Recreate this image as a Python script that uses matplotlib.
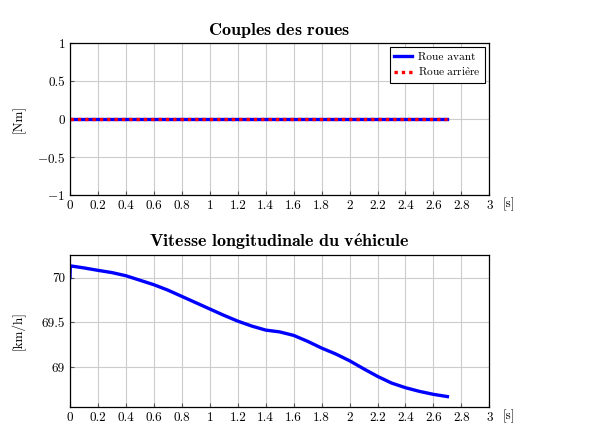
import numpy as np
import matplotlib
matplotlib.use("Agg")
import matplotlib.pyplot as plt

plt.rcParams['font.family'] = ['cmr10', 'DejaVu Serif']
plt.rcParams['mathtext.fontset'] = 'cm'
plt.rcParams['axes.formatter.use_mathtext'] = True
plt.rcParams['axes.unicode_minus'] = True

# temps et couples (nuls)
t_couple = [0.0, 2.7]
couple_avant = [0.0, 0.0]
couple_arriere = [0.0, 0.0]

# vitesse longitudinale
t_vit = [0.0, 0.002, 0.1, 0.2, 0.3, 0.4, 0.5, 0.6, 0.7, 0.8, 0.9, 1.0, 1.1, 1.2,
         1.3, 1.4, 1.5, 1.6, 1.7, 1.8, 1.9, 2.0, 2.1, 2.2, 2.3, 2.4, 2.5, 2.6, 2.7]
vitesse = [70.0, 70.13, 70.107, 70.08, 70.055, 70.02, 69.97, 69.92, 69.86, 69.79,
           69.72, 69.65, 69.58, 69.515, 69.46, 69.415, 69.395, 69.356, 69.29,
           69.215, 69.15, 69.074, 68.985, 68.90, 68.826, 68.774, 68.733, 68.70, 68.675]

xticks = np.arange(0, 3.01, 0.2)
xticklabels = ['0', '0.2', '0.4', '0.6', '0.8', '1', '1.2', '1.4', '1.6', '1.8',
               '2', '2.2', '2.4', '2.6', '2.8', '3']

fig = plt.figure(figsize=(6.14, 4.23), dpi=100)
ax1 = fig.add_axes([0.114, 0.539, 0.683, 0.359])
ax2 = fig.add_axes([0.114, 0.038, 0.683, 0.359])

for ax in (ax1, ax2):
    ax.set_xlim(0, 3)
    ax.set_xticks(xticks)
    ax.set_xticklabels(xticklabels)
    ax.grid(True, color='#cccccc', linewidth=0.8)
    ax.set_axisbelow(True)
    ax.tick_params(direction='in', length=3, labelsize=9.5, color='#555555')
    for s in ax.spines.values():
        s.set_linewidth(0.9)
    ax.text(1.045, -0.06, '[s]', transform=ax.transAxes, fontsize=9.5,
            ha='center', va='center')

# couples
ax1.plot(t_couple, couple_avant, color='blue', lw=2.4, label='Roue avant')
ax1.plot(t_couple, couple_arriere, color='red', lw=2.4, linestyle=(0, (1, 1.2)),
         label=r'$\mathrm{Roue\ arri\grave{e}re}$')
ax1.set_ylim(-1, 1)
ax1.set_yticks([-1, -0.5, 0, 0.5, 1])
ax1.set_yticklabels(['$-1$', '$-0.5$', '0', '0.5', '1'])
ax1.set_ylabel('[Nm]', fontsize=9.5)
ax1.yaxis.set_label_coords(-0.105, 0.5)
ax1.set_title(r'$\mathbf{Couples\ des\ roues}$', fontsize=13, pad=6)
leg = ax1.legend(loc='upper right', fontsize=8.2, fancybox=False, framealpha=1,
                 edgecolor='black', handlelength=1.6, borderpad=0.4,
                 labelspacing=0.35, handletextpad=0.5, borderaxespad=0.35)
leg.get_frame().set_linewidth(0.8)

# vitesse
ax2.plot(t_vit, vitesse, color='blue', lw=2.4)
ax2.set_ylim(68.56, 70.25)
ax2.set_yticks([69, 69.5, 70])
ax2.set_yticklabels(['69', '69.5', '70'])
ax2.set_ylabel('[km/h]', fontsize=9.5)
ax2.yaxis.set_label_coords(-0.105, 0.5)
ax2.set_title(r'$\mathbf{Vitesse\ longitudinale\ du\ v\acute{e}hicule}$',
              fontsize=13, pad=6)

fig.savefig('out.png', dpi=100)
